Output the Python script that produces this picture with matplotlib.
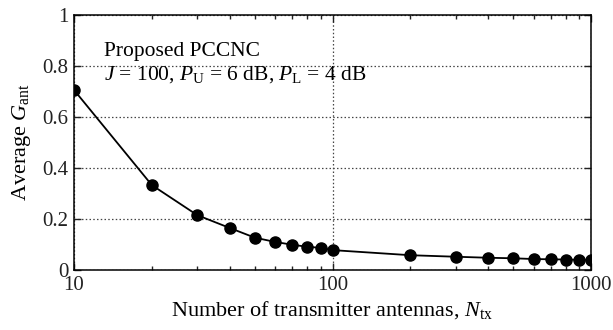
import matplotlib
matplotlib.use('Agg')
import matplotlib.pyplot as plt
import numpy as np

n_tx = [10, 20, 30, 40, 50, 60, 70, 80, 90, 100,
        200, 300, 400, 500, 600, 700, 800, 900, 1000]
avg_gant = [0.706, 0.333, 0.215, 0.165, 0.127, 0.110, 0.099, 0.091, 0.087, 0.078,
            0.058, 0.052, 0.048, 0.046, 0.043, 0.042, 0.041, 0.040, 0.040]

plt.rcParams['font.family'] = 'Liberation Serif'
plt.rcParams['mathtext.fontset'] = 'custom'
plt.rcParams['mathtext.rm'] = 'Liberation Serif'
plt.rcParams['mathtext.it'] = 'Liberation Serif:italic'
plt.rcParams['font.size'] = 15


def main():
    fig = plt.figure(figsize=(6.13, 3.30), dpi=100)
    ax = fig.add_axes([74 / 613, 60 / 330, 517 / 613, 255 / 330])

    ax.plot(n_tx, avg_gant, color='black', lw=1.3, marker='o', ms=8)

    ax.set_xscale('log')
    ax.set_xlim(10, 1000)
    ax.set_ylim(0, 1)
    ax.set_yticks([0, 0.2, 0.4, 0.6, 0.8, 1])
    ax.set_yticklabels(['0', '0.2', '0.4', '0.6', '0.8', '1'])
    ax.set_xticks([10, 100, 1000])
    ax.set_xticklabels(['10', '100', '1000'])

    for spine in ax.spines.values():
        spine.set_linewidth(1.1)
    ax.tick_params(which='both', direction='in', top=True, right=True,
                   width=1.0, colors='#222222')
    ax.tick_params(axis='x', which='major', length=5, pad=4)
    ax.tick_params(axis='y', which='major', length=5, pad=4)
    ax.tick_params(which='minor', length=3)
    ax.grid(True, which='major', color='#444444', linestyle=(0, (1.2, 1.8)), lw=0.9)

    ax.set_xlabel('Number of transmitter antennas, $N_{\\mathrm{tx}}$', fontsize=16, labelpad=3)
    ax.set_ylabel('Average $G_{\\mathrm{ant}}$', fontsize=16, labelpad=7)

    ax.text(0.058, 0.855, 'Proposed PCCNC', transform=ax.transAxes,
            fontsize=15.5, va='center', ha='left')
    ax.text(0.058, 0.765, '$J$ = 100, $P_{\\mathrm{U}}$ = 6 dB, $P_{\\mathrm{L}}$ = 4 dB',
            transform=ax.transAxes, fontsize=15.5, va='center', ha='left')

    fig.savefig('out.png', dpi=100)


if __name__ == '__main__':
    main()
